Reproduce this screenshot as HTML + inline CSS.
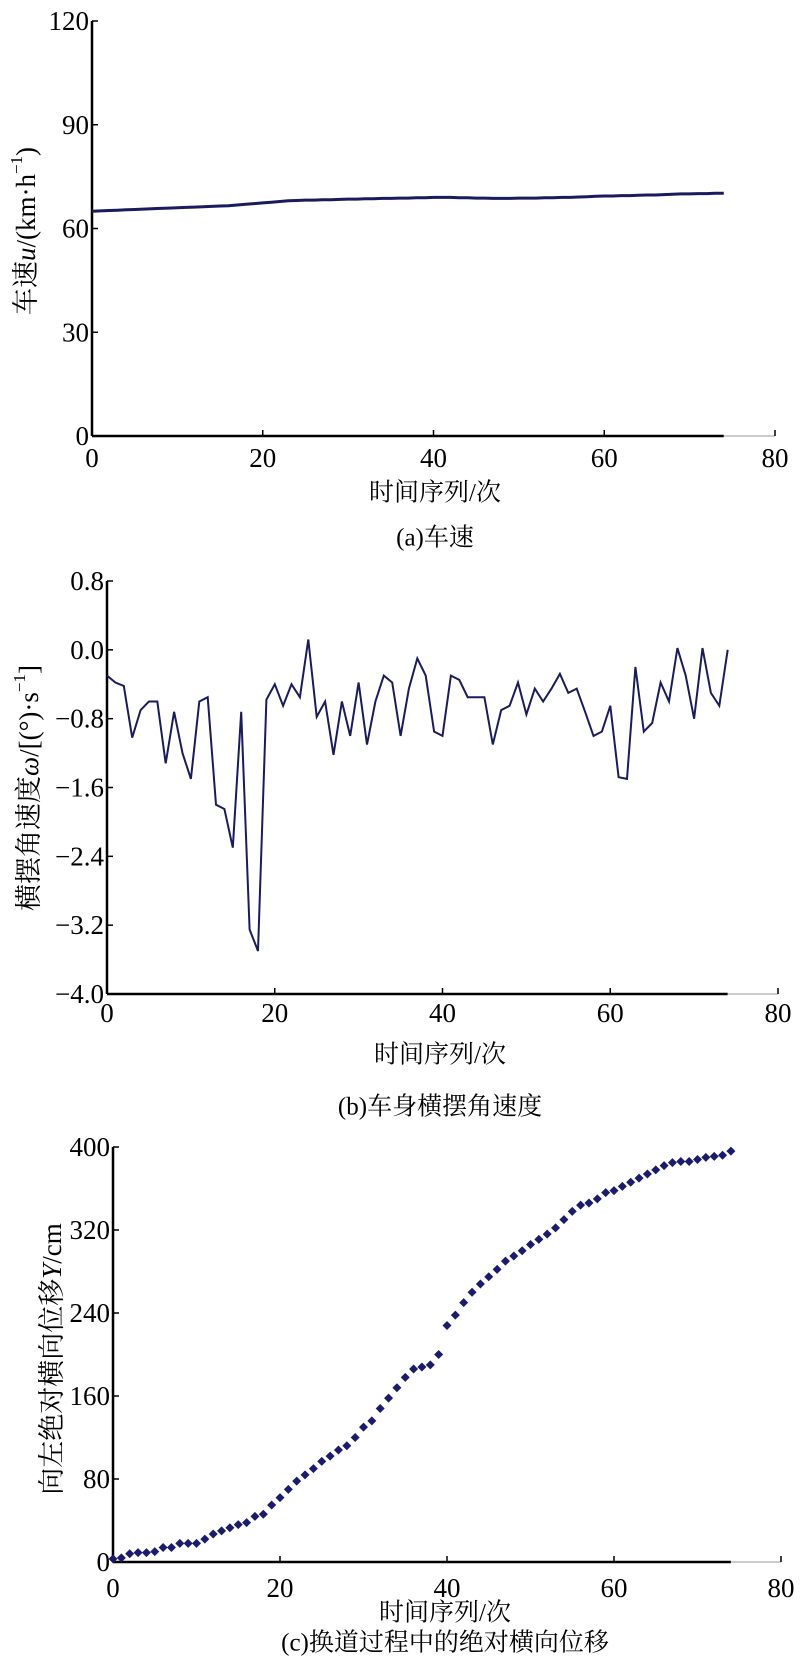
<!DOCTYPE html>
<html><head><meta charset="utf-8"><style>
body{margin:0;background:#fff}
svg{display:block}
text{font-family:"Liberation Serif","Noto Serif CJK SC",serif;fill:#000}
</style></head><body>
<svg width="800" height="1676" xmlns="http://www.w3.org/2000/svg" id="root"></svg>
<script>
const xTicks=[0,20,40,60,80];
const speedTicks=[0,30,60,90,120];
const speedVals=[65,65.1,65.2,65.3,65.4,65.5,65.6,65.7,65.8,65.9,66,66.1,66.2,66.3,66.4,66.5,66.6,66.8,67,67.2,67.4,67.6,67.8,68,68.1,68.2,68.2,68.3,68.3,68.4,68.5,68.5,68.6,68.6,68.7,68.7,68.8,68.8,68.9,68.9,69,69,69,68.9,68.9,68.8,68.8,68.7,68.7,68.7,68.8,68.8,68.8,68.9,68.9,69,69,69.1,69.2,69.3,69.4,69.4,69.5,69.5,69.6,69.7,69.7,69.8,69.9,70,70,70.1,70.1,70.2,70.2];
const yawTicks=[0.8,0.0,-0.8,-1.6,-2.4,-3.2,-4.0];
const yawVals=[-0.3,-0.38,-0.42,-1.02,-0.7,-0.6,-0.6,-1.32,-0.72,-1.2,-1.5,-0.6,-0.55,-1.8,-1.85,-2.3,-0.72,-3.25,-3.5,-0.58,-0.4,-0.65,-0.4,-0.55,0.12,-0.78,-0.6,-1.22,-0.6,-1.0,-0.38,-1.1,-0.6,-0.3,-0.38,-1.0,-0.45,-0.1,-0.3,-0.95,-1.0,-0.3,-0.35,-0.55,-0.55,-0.55,-1.1,-0.7,-0.65,-0.38,-0.75,-0.45,-0.6,-0.45,-0.28,-0.5,-0.45,-0.72,-1.0,-0.95,-0.65,-1.48,-1.5,-0.2,-0.95,-0.85,-0.38,-0.6,0.02,-0.3,-0.8,0.02,-0.5,-0.65,0.0];
const dispTicks=[0,80,160,240,320,400];
const dispVals=[3,4,8,9,9,10,14,14,18,18,18,22,27,30,33,36,38,44,46,55,62,70,78,84,90,97,102,108,112,120,130,136,148,158,168,178,186,188,190,200,228,238,250,260,268,275,282,290,295,300,306,311,316,322,330,338,344,346,350,356,358,362,366,370,374,378,382,385,386,386,388,390,391,392,396];

const NS="http://www.w3.org/2000/svg";
const root=document.getElementById('root');
function mk(tag,attrs,parent){const e=document.createElementNS(NS,tag);for(const k in attrs)e.setAttribute(k,attrs[k]);(parent||root).appendChild(e);return e;}
function txt(s,x,y,size,anchor,parent){const t=mk('text',{x:x,y:y,'font-size':size,'text-anchor':anchor||'middle','dominant-baseline':'central'},parent);t.textContent=s;return t;}

function chart(cfg){
  const g=mk('g',{});
  
  
  const sx=v=>cfg.x0+(v-0)*(cfg.x1-cfg.x0)/80;
  const sy=v=>cfg.yb+(v-cfg.ymin)*(cfg.yt-cfg.yb)/(cfg.ymax-cfg.ymin);
  const n=cfg.vals.length-1;
  const ya=mk('line',{x1:cfg.x0,y1:cfg.yt,x2:cfg.x0,y2:cfg.yb,stroke:'#000','stroke-width':2.5},g);
  
  const xa=mk('line',{x1:cfg.x0,y1:cfg.yb,x2:sx(n),y2:cfg.yb,stroke:'#000','stroke-width':2.5},g);
  
  mk('line',{x1:sx(n),y1:cfg.yb,x2:cfg.x1,y2:cfg.yb,stroke:'#999','stroke-width':1},g);
  xTicks.forEach(t=>{
    mk('line',{x1:sx(t),y1:cfg.yb,x2:sx(t),y2:cfg.yb-6,stroke:'#000','stroke-width':1.5},g);
    const l=txt(String(t),sx(t),cfg.xtl,27,'middle',g);
    
  });
  cfg.ticks.forEach(t=>{
    mk('line',{x1:cfg.x0,y1:sy(t),x2:cfg.x0+6,y2:sy(t),stroke:'#000','stroke-width':1.5},g);
    const s=cfg.fmt?cfg.fmt(t):String(t);
    const l=txt(s,cfg.x0-3,sy(t),27,'end',g);
    
  });
  if(cfg.type==='line'){
    const pts=cfg.vals.map((v,i)=>sx(i).toFixed(1)+','+sy(v).toFixed(1)).join(' ');
    const p=mk('polyline',{points:pts,fill:'none',stroke:'#1a1a5e','stroke-width':cfg.sw},g);
    
  } else {
    cfg.vals.forEach((v,i)=>{
      const x=sx(i),y=sy(v),r=4.5;
      const d=mk('polygon',{points:`${x},${y-r} ${x+r},${y} ${x},${y+r} ${x-r},${y}`,fill:'#1a1a6e'},g);
      
    });
  }
  const xl=txt('时间序列/次',cfg.xlx,cfg.xly,25,'middle',g);
  
  const cap=txt(cfg.cap,cfg.xlx,cfg.capy,25,'middle',g);
  
  const yl=mk('text',{x:0,y:0,'font-size':27,'text-anchor':'middle','dominant-baseline':'central',transform:`translate(${cfg.ylx},${cfg.yly}) rotate(-90)`},g);
  yl.innerHTML=cfg.ylab;
  
}

chart({name:'speed-chart',type:'line',sw:3,vals:speedVals,ticks:speedTicks,ymin:0,ymax:120,x0:92,x1:775,yb:436,yt:21,xtl:458,xlx:435,xly:493,capy:538,cap:'(a)车速',ylx:26,yly:231,
 ylab:'车速<tspan font-style="italic">u</tspan>/(km·h<tspan baseline-shift="super" font-size="17">−1</tspan>)'});
chart({name:'yaw-rate-chart',type:'line',sw:2,vals:yawVals,ticks:yawTicks,ymin:-4,ymax:0.8,x0:107,x1:778,yb:994,yt:581,xtl:1013,xlx:440,xly:1055,capy:1107,cap:'(b)车身横摆角速度',fmt:t=>(t<0?'−':'')+Math.abs(t).toFixed(1),ylx:29,yly:788,
 ylab:'横摆角速度<tspan font-style="italic">ω</tspan>/[(°)·s<tspan baseline-shift="super" font-size="17">−1</tspan>]'});
chart({name:'displacement-chart',type:'scatter',vals:dispVals,ticks:dispTicks,ymin:0,ymax:400,x0:113,x1:781,yb:1562,yt:1147,xtl:1588,xlx:445,xly:1613,capy:1643,cap:'(c)换道过程中的绝对横向位移',ylx:52,yly:1359,
 ylab:'向左绝对横向位移<tspan font-style="italic">Y</tspan>/cm'});
</script>
</body></html>
